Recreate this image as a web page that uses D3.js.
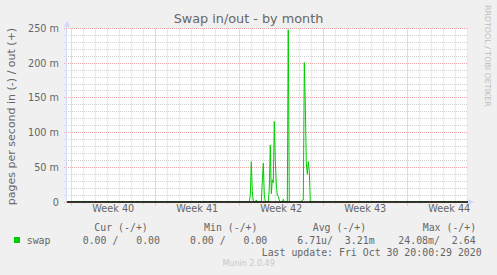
<!DOCTYPE html>
<html>
<head>
<meta charset="utf-8">
<title>Swap in/out - by month</title>
<script src="https://d3js.org/d3.v7.min.js"></script>
<style>
  body { margin: 0; background: #f0f0f0; }
  svg { display: block; }
</style>
</head>
<body>
<div id="chart"></div>
<script>
// swap out, pages/s in milli units, 2h samples (zero elsewhere)
let outTimes = [
  "2020-09-27T16:00", "2020-10-03T10:00", "2020-10-03T12:00", "2020-10-03T14:00",
  "2020-10-12T20:00", "2020-10-12T22:00", "2020-10-13T00:00", "2020-10-13T02:00",
  "2020-10-13T04:00", "2020-10-13T08:00", "2020-10-13T10:00", "2020-10-13T12:00",
  "2020-10-13T20:00", "2020-10-13T22:00", "2020-10-14T00:00", "2020-10-14T02:00",
  "2020-10-14T04:00", "2020-10-14T10:00", "2020-10-14T12:00", "2020-10-14T14:00",
  "2020-10-14T16:00", "2020-10-14T18:00", "2020-10-14T20:00", "2020-10-14T22:00",
  "2020-10-15T00:00", "2020-10-15T02:00", "2020-10-15T04:00", "2020-10-15T06:00",
  "2020-10-15T08:00", "2020-10-15T10:00", "2020-10-15T14:00", "2020-10-15T16:00",
  "2020-10-15T18:00", "2020-10-16T00:00", "2020-10-16T02:00", "2020-10-16T04:00",
  "2020-10-17T04:00", "2020-10-17T06:00", "2020-10-17T08:00", "2020-10-17T10:00",
  "2020-10-17T12:00", "2020-10-17T14:00", "2020-10-17T16:00", "2020-10-17T18:00",
  "2020-10-17T20:00", "2020-10-17T22:00", "2020-10-30T20:00"
];
let outValues = [
  0, 0, 1.5, 0,
  0, 10, 58, 15,
  0, 0, 3, 0,
  0, 30, 56, 10,
  0, 0, 20, 82,
  12, 32, 28, 116,
  60, 25, 10, 8,
  3, 0, 0, 4,
  0, 0, 248, 0,
  0, 3, 3, 201,
  140, 56, 40, 58,
  45, 0, 0
];

let yTicks = [0, 50, 100, 150, 200, 250];
let yLabels = ["0", "50 m", "100 m", "150 m", "200 m", "250 m"];
let weekLabels = ["Week 40", "Week 41", "Week 42", "Week 43", "Week 44"];
let legendHead = ["Cur (-/+)", "Min (-/+)", "Avg (-/+)", "Max (-/+)"];
let legendVals = ["0.00 /   0.00", "0.00 /   0.00", "6.71u/  3.21m", "24.08m/  2.64"];

let w = 497, h = 275;
let pLeft = 67, pRight = 468, pTop = 28.5, pBottom = 202;

let parse = d3.utcParse("%Y-%m-%dT%H:%M");
let data = outTimes.map((t, i) => ({ t: parse(t), v: outValues[i] }));

let start = parse("2020-09-27T15:24");
let end = parse("2020-10-31T01:24");

let x = d3.scaleUtc().domain([start, end]).range([pLeft, pRight]);
let y = d3.scaleLinear().domain([0, 250]).range([pBottom, pTop]);

let svg = d3.select("#chart").append("svg")
  .attr("width", w).attr("height", h);

svg.append("rect").attr("width", w).attr("height", h).attr("fill", "#f0f0f0");
svg.append("rect")
  .attr("x", pLeft).attr("y", pTop)
  .attr("width", pRight - pLeft).attr("height", pBottom - pTop)
  .attr("fill", "#ffffff");

let sans = "DejaVu Sans, sans-serif";
let mono = "DejaVu Sans Mono, monospace";
let fg = "#666666";
let gridColor = "#d2d2d2", mgridColor = "#e8a6a6";

// grid, minor first then major
let snap = v => Math.floor(v) + 0.5;
let minorY = d3.range(0, 251, 10).filter(v => v % 50 !== 0);
svg.selectAll(".hminor").data(minorY).enter().append("line")
  .attr("x1", pLeft - 3).attr("x2", pRight)
  .attr("y1", d => snap(y(d))).attr("y2", d => snap(y(d)))
  .attr("stroke", gridColor).attr("stroke-dasharray", "1,1");

let days = d3.utcDay.range(start, end);
svg.selectAll(".vminor").data(days.filter(d => d.getUTCDay() !== 1)).enter().append("line")
  .attr("x1", d => snap(x(d))).attr("x2", d => snap(x(d)))
  .attr("y1", pTop).attr("y2", pBottom + 3)
  .attr("stroke", gridColor).attr("stroke-dasharray", "1,1");

svg.selectAll(".hmajor").data(yTicks).enter().append("line")
  .attr("x1", pLeft - 3).attr("x2", pRight)
  .attr("y1", d => snap(y(d))).attr("y2", d => snap(y(d)))
  .attr("stroke", mgridColor).attr("stroke-dasharray", "1,1");

let weeks = d3.utcMonday.range(start, end);
svg.selectAll(".vmajor").data(weeks).enter().append("line")
  .attr("x1", d => snap(x(d))).attr("x2", d => snap(x(d)))
  .attr("y1", pTop).attr("y2", pBottom + 4)
  .attr("stroke", mgridColor).attr("stroke-dasharray", "1,1");

// axes (rrdtool style)
svg.append("line")
  .attr("x1", pLeft - 0.5).attr("x2", pLeft - 0.5)
  .attr("y1", 25).attr("y2", pBottom)
  .attr("stroke", "#cfd6f8");
svg.append("path")
  .attr("d", "M64,26.5L70,26.5L67,21Z")
  .attr("fill", "#cfd6f8");
svg.append("path")
  .attr("d", "M468,199L468,205L474,202Z")
  .attr("fill", "#cfd6f8");

// data line
svg.append("clipPath").attr("id", "clip").append("rect")
  .attr("x", pLeft).attr("y", pTop - 1)
  .attr("width", pRight - pLeft).attr("height", pBottom - pTop + 1);

let line = d3.line().x(d => x(d.t)).y(d => y(d.v));
svg.append("path")
  .datum(data)
  .attr("clip-path", "url(#clip)")
  .attr("d", line)
  .attr("fill", "none")
  .attr("stroke", "#00cc00")
  .attr("stroke-width", 1);

// zero rule
svg.append("line")
  .attr("x1", pLeft).attr("x2", pRight)
  .attr("y1", y(0)).attr("y2", y(0))
  .attr("stroke", "#000000").attr("stroke-width", 1.5);

// y labels
svg.selectAll(".ylab").data(yTicks).enter().append("text")
  .attr("x", 59).attr("y", d => y(d) + 3.5)
  .attr("text-anchor", "end")
  .attr("font-family", sans).attr("font-size", "9.7px").attr("fill", fg)
  .text((d, i) => yLabels[i]);

// week labels
svg.selectAll(".xlab").data(weeks).enter().append("text")
  .attr("x", d => x(d3.utcHour.offset(d, 84)))
  .attr("y", 212)
  .attr("text-anchor", "middle")
  .attr("font-family", sans).attr("font-size", "9.7px").attr("fill", fg)
  .text((d, i) => weekLabels[i]);

// title
svg.append("text")
  .attr("x", 248.5).attr("y", 23)
  .attr("text-anchor", "middle")
  .attr("font-family", sans).attr("font-size", "12.8px").attr("fill", fg)
  .text("Swap in/out - by month");

// vertical label
svg.append("text")
  .attr("transform", "translate(14.5,116.5) rotate(-90)")
  .attr("text-anchor", "middle")
  .attr("font-family", sans).attr("font-size", "11px").attr("fill", fg)
  .text("pages per second in (-) / out (+)");

// watermark
svg.append("text")
  .attr("transform", "translate(485,5) rotate(90)")
  .attr("font-family", sans).attr("font-size", "7.9px").attr("fill", "#bdbdbd")
  .text("RRDTOOL / TOBI OETIKER");

// legend
svg.append("rect")
  .attr("x", 14).attr("y", 237).attr("width", 6).attr("height", 6)
  .attr("fill", "#00cc00");
svg.append("text")
  .attr("x", 26.7).attr("y", 243.5)
  .attr("font-family", mono).attr("font-size", "9.9px").attr("fill", fg)
  .text("swap");

let headX = [94.3, 204, 312.7, 422.7];
let valX = [82.7, 190, 297.3, 398.3];
svg.selectAll(".lhead").data(legendHead).enter().append("text")
  .attr("x", (d, i) => headX[i]).attr("y", 230.5)
  .attr("font-family", mono).attr("font-size", "9.9px").attr("fill", fg)
  .style("white-space", "pre")
  .text(d => d);
svg.selectAll(".lval").data(legendVals).enter().append("text")
  .attr("x", (d, i) => valX[i]).attr("y", 243.5)
  .attr("font-family", mono).attr("font-size", "9.9px").attr("fill", fg)
  .style("white-space", "pre")
  .text(d => d);

svg.append("text")
  .attr("x", 261.7).attr("y", 255.5)
  .attr("font-family", mono).attr("font-size", "9.9px").attr("fill", fg)
  .style("white-space", "pre")
  .text("Last update: Fri Oct 30 20:00:29 2020");

svg.append("text")
  .attr("x", 248.6).attr("y", 266)
  .attr("text-anchor", "middle")
  .attr("font-family", sans).attr("font-size", "8px").attr("fill", "#c8c8c8")
  .text("Munin 2.0.49");
</script>
</body>
</html>
